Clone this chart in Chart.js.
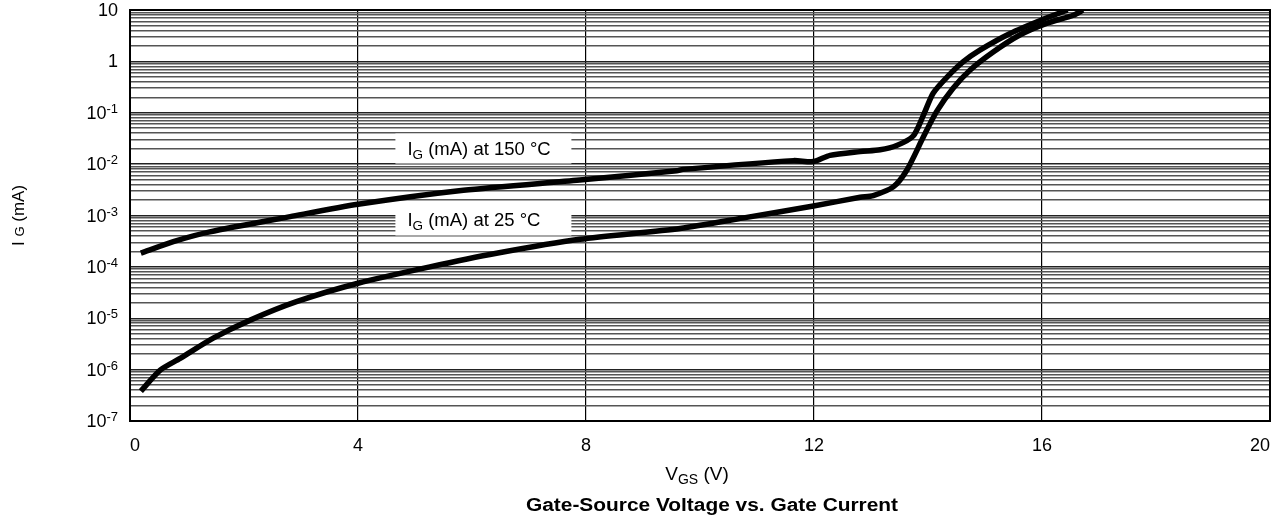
<!DOCTYPE html>
<html>
<head>
<meta charset="utf-8">
<script src="https://cdn.jsdelivr.net/npm/chart.js@4.4.1/dist/chart.umd.min.js"></script>
<style>
  html, body { margin: 0; padding: 0; background: #fff; }
  #wrap { width: 1288px; height: 518px; position: relative; }
</style>
</head>
<body>
<div id="wrap"><canvas id="chart"></canvas></div>
<script>
// Gate current vs. gate-source voltage, two junction temperatures
const vgs150 = [0.19, 0.76, 1.4, 2.81, 4.0, 5.85, 7.89, 9.59, 9.7, 11.64, 11.99, 12.28, 12.81, 13.16, 13.45, 13.74, 13.92, 14.09, 14.33, 14.62, 14.91, 15.44, 15.99, 16.45];
const ig150  = [1.85e-4, 3.1e-4, 4.8e-4, 9.5e-4, 1.65e-3, 3.1e-3, 4.9e-3, 7.4e-3, 7.9e-3, 0.0117, 0.0112, 0.0148, 0.0175, 0.019, 0.023, 0.0352, 0.09, 0.24, 0.49, 0.99, 1.66, 3.5, 6.4, 10];
const vgs25  = [0.19, 0.53, 0.88, 1.46, 2.11, 2.92, 4.0, 5.26, 6.43, 7.89, 9.65, 10.82, 11.99, 12.81, 13.04, 13.39, 13.63, 13.92, 14.15, 14.44, 14.74, 15.15, 15.61, 16.08, 16.55, 16.72];
const ig25   = [3.8e-7, 9.8e-7, 1.66e-6, 4.1e-6, 9.2e-6, 2.1e-5, 4.8e-5, 1.0e-4, 1.84e-4, 3.44e-4, 5.6e-4, 9.2e-4, 1.53e-3, 2.26e-3, 2.45e-3, 3.6e-3, 7.7e-3, 0.034, 0.105, 0.30, 0.68, 1.54, 3.26, 5.5, 7.9, 10];

const seriesNames = ['at 150 °C', 'at 25 °C'];
const xTickValues = [0, 4, 8, 12, 16, 20];
const yDecadeExponents = [-7, -6, -5, -4, -3, -2, -1, 0, 1];

// where each series caption sits, in data units (V, mA)
const captionAnchors = [{ x: 6.2, y: 0.0201 }, { x: 6.2, y: 8.0e-4 }];

const FONT = '"Liberation Sans", Arial, Helvetica, sans-serif';

// every 1..9 x 10^n value across the range, for the log grid
const yGridValues = [];
for (let i = 0; i < yDecadeExponents.length; i++) {
  const e = yDecadeExponents[i];
  for (let m = 1; m <= 9; m++) {
    if (i === yDecadeExponents.length - 1 && m > 1) break;
    yGridValues.push(m * Math.pow(10, e));
  }
}

function toPoints(xs, ys) { return xs.map((x, i) => ({ x: x, y: ys[i] })); }

// draws runs of text with their own size / vertical shift (sub- and superscripts)
function richWidth(ctx, parts) {
  let w = 0;
  for (const p of parts) {
    ctx.font = (p.bold ? 'bold ' : '') + p.size + 'px ' + FONT;
    w += ctx.measureText(p.t).width;
  }
  return w;
}
function drawRich(ctx, parts, x, y, align) {
  const w = richWidth(ctx, parts);
  let cx = align === 'right' ? x - w : align === 'center' ? x - w / 2 : x;
  ctx.textBaseline = 'alphabetic';
  ctx.textAlign = 'left';
  for (const p of parts) {
    ctx.font = (p.bold ? 'bold ' : '') + p.size + 'px ' + FONT;
    ctx.fillText(p.t, cx, y + (p.dy || 0));
    cx += ctx.measureText(p.t).width;
  }
  return w;
}

const decorPlugin = {
  id: 'decor',
  beforeDatasetsDraw(chart) {
    const ctx = chart.ctx;
    const xs = chart.scales.x, ys = chart.scales.y;
    ctx.save();
    chart.data.datasets.forEach((ds, i) => {
      const a = captionAnchors[i];
      const px = xs.getPixelForValue(a.x), py = ys.getPixelForValue(a.y);
      const parts = [
        { t: 'I', size: 18.5 },
        { t: 'G', size: 13.5, dy: 4 },
        { t: ' (mA) ' + ds.label, size: 18.5 }
      ];
      const boxW = 176, boxH = 30;
      ctx.fillStyle = '#fff';
      ctx.fillRect(px - boxW / 2, py - boxH / 2, boxW, boxH);
      ctx.fillStyle = '#000';
      drawRich(ctx, parts, px - boxW / 2 + 12, py + 6, 'left');
    });
    ctx.restore();
  },
  afterDatasetsDraw(chart) {
    const ctx = chart.ctx, a = chart.chartArea;
    ctx.save();
    ctx.strokeStyle = '#000';
    ctx.lineWidth = 2;
    ctx.strokeRect(a.left, a.top, a.right - a.left, a.bottom - a.top);
    ctx.restore();
  },
  afterDraw(chart) {
    const ctx = chart.ctx, a = chart.chartArea;
    const ys = chart.scales.y;
    ctx.save();
    ctx.fillStyle = '#000';
    // decade labels on the current axis
    yDecadeExponents.forEach(e => {
      const py = ys.getPixelForValue(Math.pow(10, e));
      let parts;
      if (e === 0) parts = [{ t: '1', size: 18 }];
      else if (e === 1) parts = [{ t: '10', size: 18 }];
      else parts = [{ t: '10', size: 18 }, { t: '-' + Math.abs(e), size: 13, dy: -6 }];
      drawRich(ctx, parts, a.left - 12, py + 6, 'right');
    });
    // y axis title
    ctx.save();
    ctx.translate(24, (a.top + a.bottom) / 2);
    ctx.rotate(-Math.PI / 2);
    drawRich(ctx, [{ t: 'I ', size: 17 }, { t: 'G', size: 13 }, { t: ' (mA)', size: 17 }], 0, 0, 'center');
    ctx.restore();
    // x axis title
    const cx = (a.left + a.right) / 2;
    drawRich(ctx, [{ t: 'V', size: 19 }, { t: 'GS', size: 14, dy: 4 }, { t: ' (V)', size: 19 }], cx - 3, 480, 'center');
    // chart title, set in a wide bold face
    ctx.save();
    ctx.translate(cx + 12, 511);
    ctx.scale(1.16, 1);
    drawRich(ctx, [{ t: 'Gate-Source Voltage vs. Gate Current', size: 18, bold: true }], 0, 0, 'center');
    ctx.restore();
    ctx.restore();
  }
};

new Chart(document.getElementById('chart'), {
  type: 'line',
  data: {
    datasets: [
      { label: seriesNames[0], data: toPoints(vgs150, ig150) },
      { label: seriesNames[1], data: toPoints(vgs25, ig25) }
    ].map(d => Object.assign(d, {
      borderColor: '#000',
      borderWidth: 5.5,
      pointRadius: 0,
      tension: 0.25,
      fill: false
    }))
  },
  options: {
    responsive: true,
    maintainAspectRatio: false,
    animation: false,
    devicePixelRatio: 1,
    layout: { padding: { top: 10, right: 18, bottom: 0, left: 10 } },
    plugins: { legend: { display: false }, tooltip: { enabled: false }, title: { display: false } },
    scales: {
      x: {
        type: 'linear',
        min: 0,
        max: 20,
        afterBuildTicks: s => { s.ticks = xTickValues.map(v => ({ value: v })); },
        afterFit: s => { s.height = 97; },
        ticks: {
          align: 'inner',
          color: '#000',
          font: { family: FONT, size: 18 },
          padding: 14,
          maxRotation: 0
        },
        grid: { color: '#000', lineWidth: 1.2, drawTicks: false },
        border: { display: true, color: '#000', width: 2 }
      },
      y: {
        type: 'logarithmic',
        min: 1e-7,
        max: 10,
        afterBuildTicks: s => { s.ticks = yGridValues.map(v => ({ value: v })); },
        afterFit: s => { s.width = 120; },
        ticks: { display: false },
        grid: {
          drawTicks: false,
          lineWidth: 1.5,
          color: c => {
            const v = c.tick ? c.tick.value : 1;
            const m = v / Math.pow(10, Math.floor(Math.log10(v) + 1e-9));
            return Math.abs(m - 1) < 1e-6 ? '#222' : '#555';
          }
        },
        border: { display: true, color: '#000', width: 2 }
      }
    }
  },
  plugins: [decorPlugin]
});
</script>
</body>
</html>
